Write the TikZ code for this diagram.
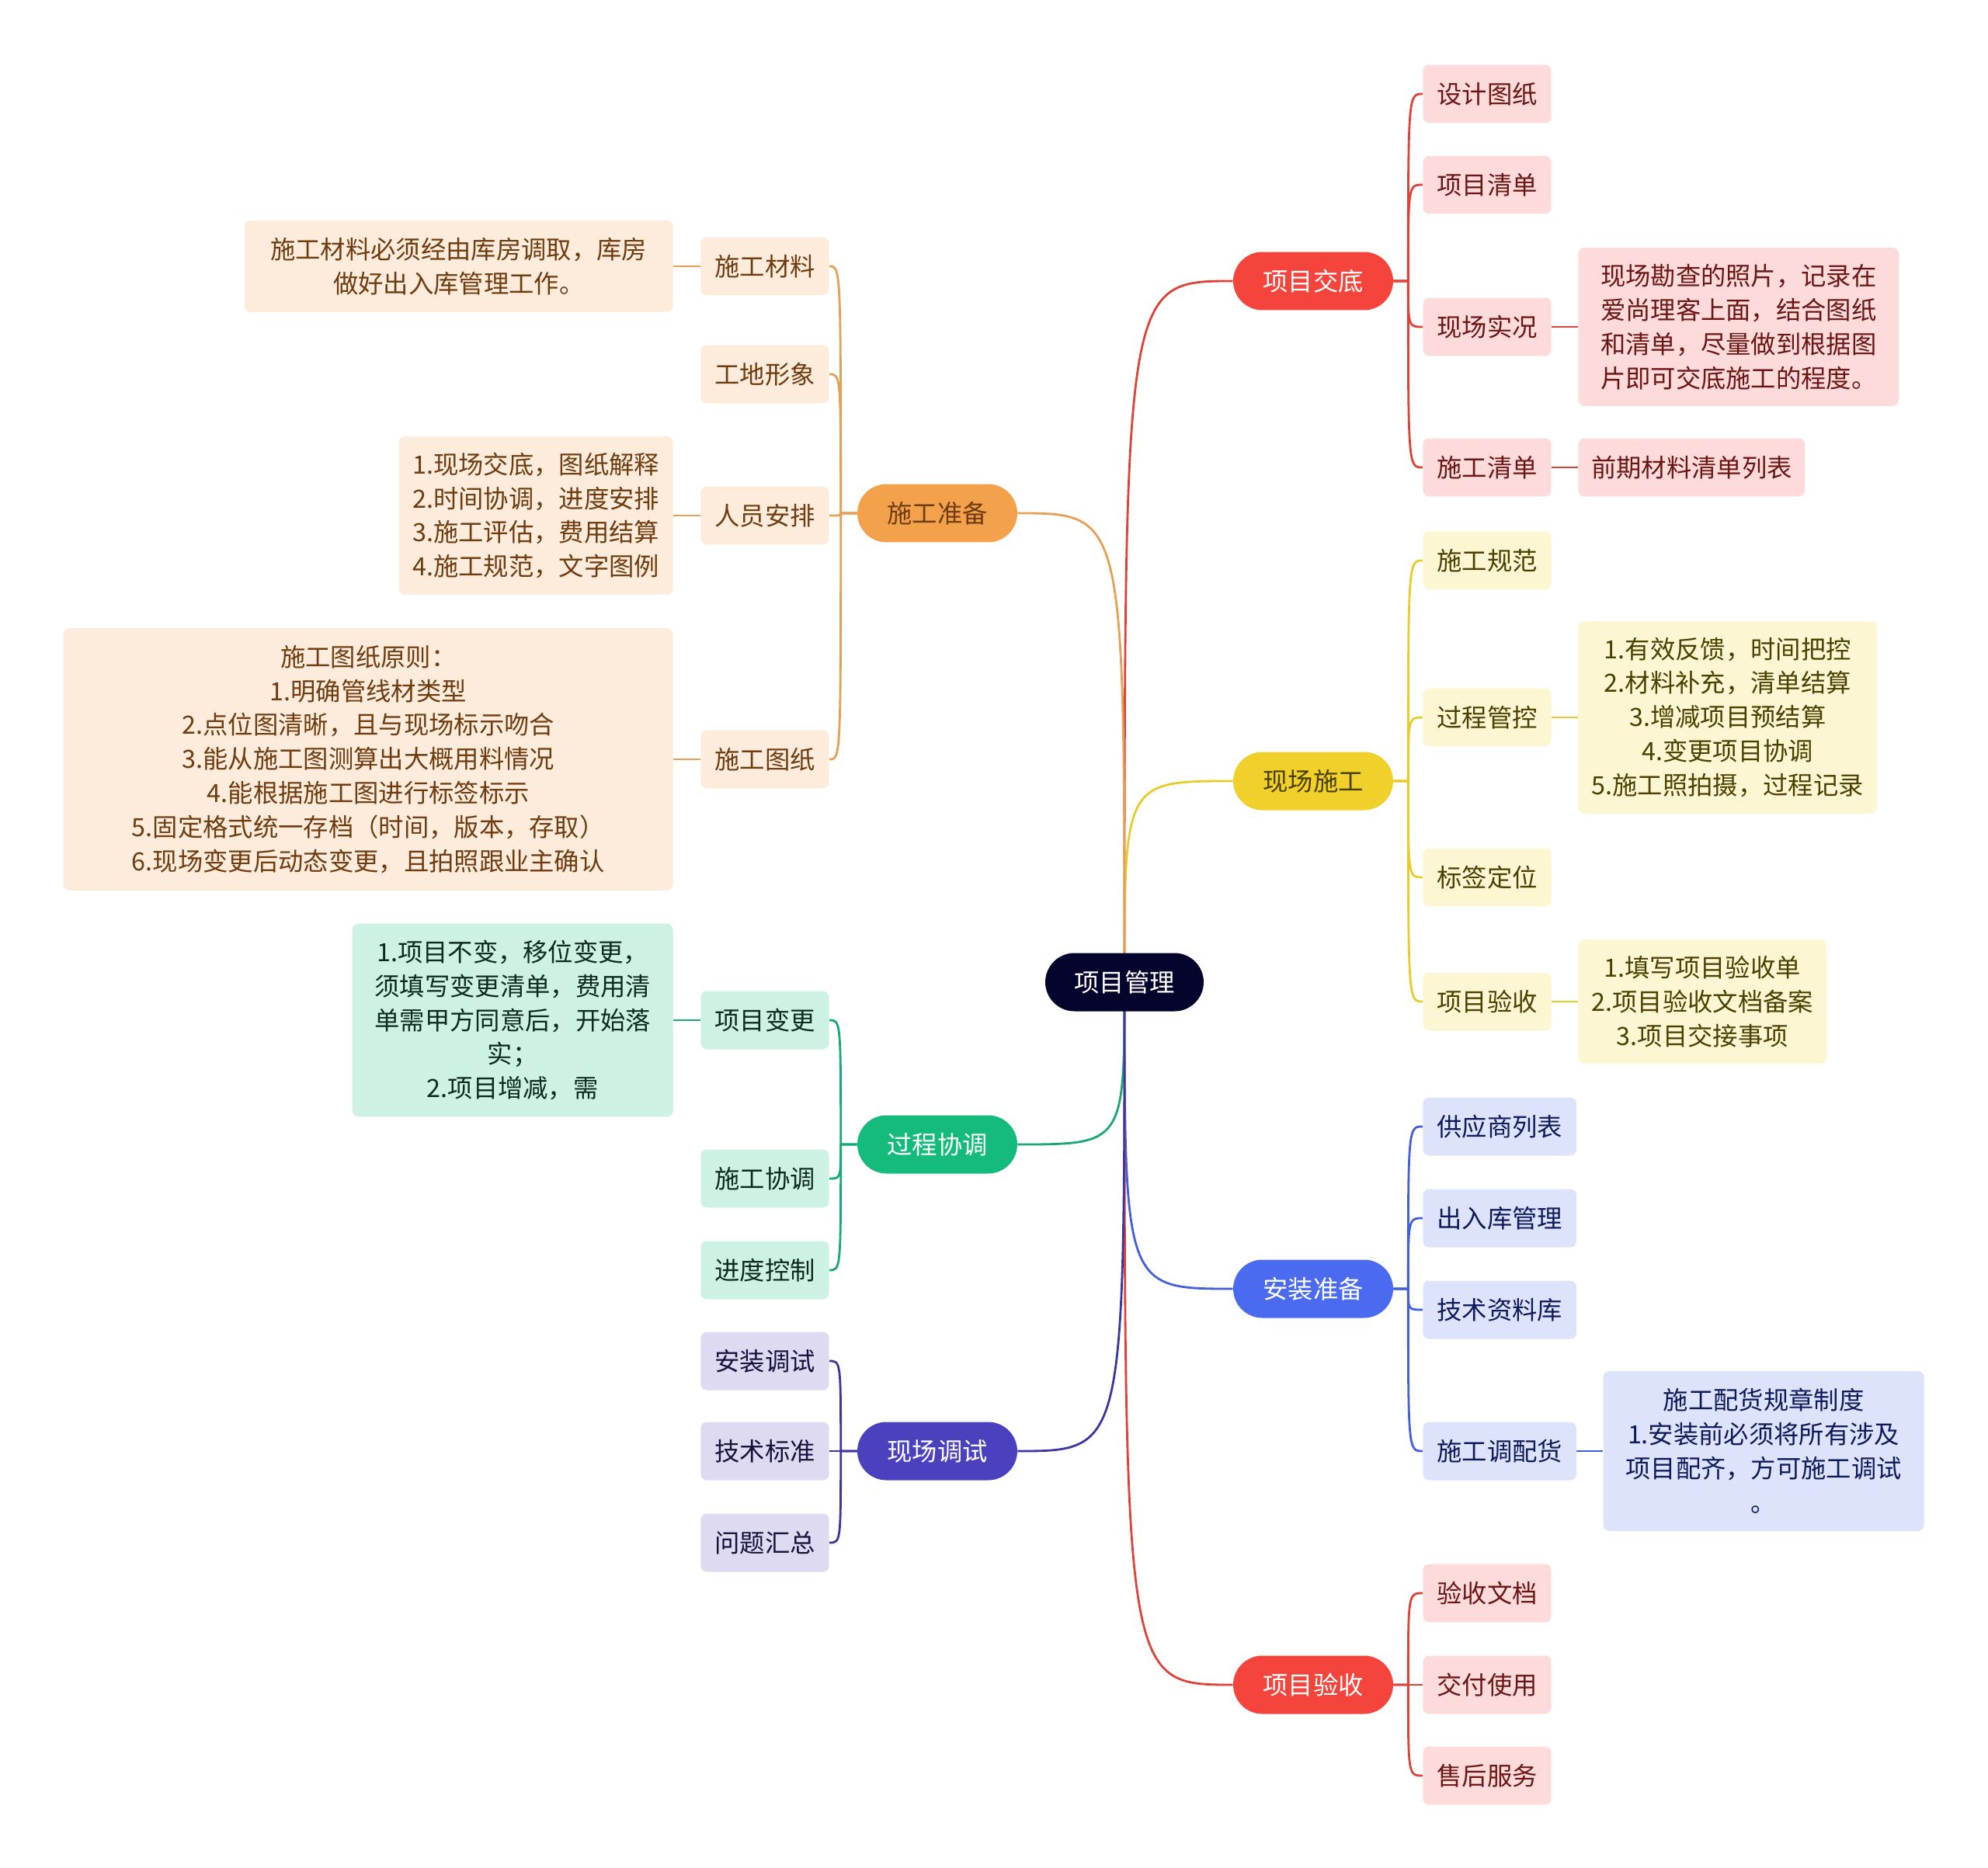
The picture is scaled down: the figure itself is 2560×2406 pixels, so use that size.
\documentclass[tikz,border=0pt]{standalone}
\usepackage{fontspec}
\setmainfont{Noto Sans CJK SC}
\usetikzlibrary{positioning, backgrounds}
\definecolor{rootnavy}{HTML}{04042C}
\definecolor{redmain}{HTML}{F4443B}
\definecolor{redwire}{HTML}{DC4439}
\definecolor{redlight}{HTML}{FDDBDB}
\definecolor{redtext}{HTML}{6B1515}
\definecolor{yellowmain}{HTML}{F1D02C}
\definecolor{yellowwire}{HTML}{E8CC2E}
\definecolor{yellowlight}{HTML}{FDF6D3}
\definecolor{yellowtext}{HTML}{4A4000}
\definecolor{bluemain}{HTML}{4A6BF0}
\definecolor{bluewire}{HTML}{4460D8}
\definecolor{bluelight}{HTML}{DCE3FB}
\definecolor{bluetext}{HTML}{0E1A5A}
\definecolor{orangemain}{HTML}{F3A14B}
\definecolor{orangewire}{HTML}{E6A055}
\definecolor{orangelight}{HTML}{FDEBDB}
\definecolor{orangetext}{HTML}{6E3C0F}
\definecolor{greenmain}{HTML}{14BB7C}
\definecolor{greenwire}{HTML}{17A874}
\definecolor{greenlight}{HTML}{CDF2E3}
\definecolor{greentext}{HTML}{0D2A1F}
\definecolor{purplemain}{HTML}{4B40BE}
\definecolor{purplewire}{HTML}{3E36A0}
\definecolor{purplelight}{HTML}{DDDAF1}
\definecolor{purpletext}{HTML}{15123C}

\begin{document}
\begin{tikzpicture}[
    x=0.02cm, y=-0.02cm,
    font=\fontsize{18.4}{25}\selectfont,
    pill/.style={rectangle, rounded corners=0.75cm, minimum width=4.12cm, minimum height=1.5cm, inner sep=0pt},
    kid/.style={rectangle, rounded corners=0.16cm, minimum height=1.5cm, inner xsep=0.36cm, inner ysep=0pt, anchor=west},
    lkid/.style={kid, anchor=east},
    note/.style={rectangle, rounded corners=0.16cm, align=center, inner sep=0pt},
    link/.style={line width=1.6pt},
    redkid/.style={kid, fill=redlight, text=redtext},
    rednote/.style={note, fill=redlight, text=redtext},
    redline/.style={link, draw=redwire},
    yellowkid/.style={kid, fill=yellowlight, text=yellowtext},
    yellownote/.style={note, fill=yellowlight, text=yellowtext},
    yellowline/.style={link, draw=yellowwire},
    bluekid/.style={kid, fill=bluelight, text=bluetext},
    bluenote/.style={note, fill=bluelight, text=bluetext},
    blueline/.style={link, draw=bluewire},
    orangekid/.style={lkid, fill=orangelight, text=orangetext},
    orangenote/.style={note, fill=orangelight, text=orangetext},
    orangeline/.style={link, draw=orangewire},
    greenkid/.style={lkid, fill=greenlight, text=greentext},
    greennote/.style={note, fill=greenlight, text=greentext},
    greenline/.style={link, draw=greenwire},
    purplekid/.style={lkid, fill=purplelight, text=purpletext},
    purpleline/.style={link, draw=purplewire}
]
\useasboundingbox (0,0) rectangle (2560,2406);

% root
\node[pill, minimum width=4.08cm, fill=rootnavy, text=white] (root) at (1448,1265) {项目管理};

% main branches
\node[pill, fill=redmain, text=white] (jiaodi) at (1691,362) {项目交底};
\node[pill, fill=yellowmain, text=yellowtext] (shigong) at (1691,1006) {现场施工};
\node[pill, fill=bluemain, text=white] (anzhuang) at (1691,1660) {安装准备};
\node[pill, fill=redmain, text=white] (yanshou) at (1691,2170) {项目验收};
\node[pill, fill=orangemain, text=orangetext] (zhunbei) at (1207,661) {施工准备};
\node[pill, fill=greenmain, text=white] (xietiao) at (1207,1474) {过程协调};
\node[pill, fill=purplemain, text=white] (tiaoshi) at (1207,1869) {现场调试};

% 项目交底
\node[redkid] (sjtz) at (1832,121) {设计图纸};
\node[redkid] (xmqd) at (1832,238) {项目清单};
\node[redkid] (xcsk) at (1832,421) {现场实况};
\node[redkid] (sgqd) at (1832,602) {施工清单};
\node[rednote, minimum width=8.26cm, minimum height=4.08cm, right=0.68cm of xcsk] (n-xcsk)
    {现场勘查的照片，记录在\\爱尚理客上面，结合图纸\\和清单，尽量做到根据图\\片即可交底施工的程度。};
\node[rednote, minimum width=5.84cm, minimum height=1.5cm, right=0.68cm of sgqd] (n-sgqd) {前期材料清单列表};

% 现场施工
\node[yellowkid] (sggf) at (1832,722) {施工规范};
\node[yellowkid] (gcgk) at (1832,924) {过程管控};
\node[yellowkid] (bqdw) at (1832,1130) {标签定位};
\node[yellowkid] (xmys) at (1832,1290) {项目验收};
\node[yellownote, minimum width=7.7cm, minimum height=4.96cm, right=0.68cm of gcgk] (n-gcgk)
    {1.有效反馈，时间把控\\2.材料补充，清单结算\\3.增减项目预结算\\4.变更项目协调\\5.施工照拍摄，过程记录};
\node[yellownote, minimum width=6.4cm, minimum height=3.2cm, right=0.68cm of xmys] (n-xmys)
    {1.填写项目验收单\\2.项目验收文档备案\\3.项目交接事项};

% 安装准备
\node[bluekid] (gysl) at (1832,1451) {供应商列表};
\node[bluekid] (crkg) at (1832,1569) {出入库管理};
\node[bluekid] (jszl) at (1832,1687) {技术资料库};
\node[bluekid] (sgdp) at (1832,1869) {施工调配货};
\node[bluenote, minimum width=8.26cm, minimum height=4.12cm, right=0.68cm of sgdp] (n-sgdp)
    {施工配货规章制度\\1.安装前必须将所有涉及\\项目配齐，方可施工调试\\。};

% 项目验收
\node[redkid] (ysdw) at (1832,2052) {验收文档};
\node[redkid] (jfsy) at (1832,2170) {交付使用};
\node[redkid] (shfw) at (1832,2287) {售后服务};

% 施工准备
\node[orangekid] (sgcl) at (1068,343) {施工材料};
\node[orangekid] (gdxx) at (1068,482) {工地形象};
\node[orangekid] (ryap) at (1068,664) {人员安排};
\node[orangekid] (sgtz) at (1068,978) {施工图纸};
\node[orangenote, minimum width=11.04cm, minimum height=2.36cm, left=0.7cm of sgcl] (n-sgcl)
    {施工材料必须经由库房调取，库房\\做好出入库管理工作。};
\node[orangenote, minimum width=7.06cm, minimum height=4.08cm, left=0.7cm of ryap] (n-ryap)
    {1.现场交底，图纸解释\\2.时间协调，进度安排\\3.施工评估，费用结算\\4.施工规范，文字图例};
\node[orangenote, minimum width=15.7cm, minimum height=6.76cm, left=0.7cm of sgtz] (n-sgtz)
    {施工图纸原则：\\1.明确管线材类型\\2.点位图清晰，且与现场标示吻合\\3.能从施工图测算出大概用料情况\\4.能根据施工图进行标签标示\\5.固定格式统一存档（时间，版本，存取）\\6.现场变更后动态变更，且拍照跟业主确认};

% 过程协调
\node[greenkid] (xmbg) at (1068,1314) {项目变更};
\node[greenkid] (sgxt) at (1068,1518) {施工协调};
\node[greenkid] (jdkz) at (1068,1636) {进度控制};
\node[greennote, minimum width=8.26cm, minimum height=4.98cm, left=0.7cm of xmbg] (n-xmbg)
    {1.项目不变，移位变更，\\须填写变更清单，费用清\\单需甲方同意后，开始落\\实；\\2.项目增减，需};

% 现场调试
\node[purplekid] (azts) at (1068,1753) {安装调试};
\node[purplekid] (jsbz) at (1068,1869) {技术标准};
\node[purplekid] (wthz) at (1068,1987) {问题汇总};

% connectors
\begin{scope}[on background layer]
\draw[redline] (root.center) .. controls (root.center |- jiaodi.west) .. (jiaodi.west);
\draw[yellowline] (root.center) .. controls (root.center |- shigong.west) .. (shigong.west);
\draw[blueline] (root.center) .. controls (root.center |- anzhuang.west) .. (anzhuang.west);
\draw[redline] (root.center) .. controls (root.center |- yanshou.west) .. (yanshou.west);
\draw[orangeline] (root.center) .. controls (root.center |- zhunbei.east) .. (zhunbei.east);
\draw[greenline] (root.center) .. controls (root.center |- xietiao.east) .. (xietiao.east);
\draw[purpleline] (root.center) .. controls (root.center |- tiaoshi.east) .. (tiaoshi.east);

\foreach \k in {sjtz, xmqd, xcsk, sgqd}
  \draw[redline] (jiaodi.east) -- ++(19,0) coordinate (s) .. controls (s |- \k.west) .. (\k.west);
\foreach \k in {sggf, gcgk, bqdw, xmys}
  \draw[yellowline] (shigong.east) -- ++(19,0) coordinate (s) .. controls (s |- \k.west) .. (\k.west);
\foreach \k in {gysl, crkg, jszl, sgdp}
  \draw[blueline] (anzhuang.east) -- ++(19,0) coordinate (s) .. controls (s |- \k.west) .. (\k.west);
\foreach \k in {ysdw, jfsy, shfw}
  \draw[redline] (yanshou.east) -- ++(19,0) coordinate (s) .. controls (s |- \k.west) .. (\k.west);
\foreach \k in {sgcl, gdxx, ryap, sgtz}
  \draw[orangeline] (zhunbei.west) -- ++(-21,0) coordinate (s) .. controls (s |- \k.east) .. (\k.east);
\foreach \k in {xmbg, sgxt, jdkz}
  \draw[greenline] (xietiao.west) -- ++(-21,0) coordinate (s) .. controls (s |- \k.east) .. (\k.east);
\foreach \k in {azts, jsbz, wthz}
  \draw[purpleline] (tiaoshi.west) -- ++(-21,0) coordinate (s) .. controls (s |- \k.east) .. (\k.east);

% notes
\draw[redline] (xcsk.east) -- (n-xcsk.west);
\draw[redline] (sgqd.east) -- (n-sgqd.west);
\draw[yellowline] (gcgk.east) -- (n-gcgk.west);
\draw[yellowline] (xmys.east) -- (n-xmys.west);
\draw[blueline] (sgdp.east) -- (n-sgdp.west);
\draw[orangeline] (sgcl.west) -- (n-sgcl.east);
\draw[orangeline] (ryap.west) -- (n-ryap.east);
\draw[orangeline] (sgtz.west) -- (n-sgtz.east);
\draw[greenline] (xmbg.west) -- (n-xmbg.east);
\end{scope}

\end{tikzpicture}
\end{document}
